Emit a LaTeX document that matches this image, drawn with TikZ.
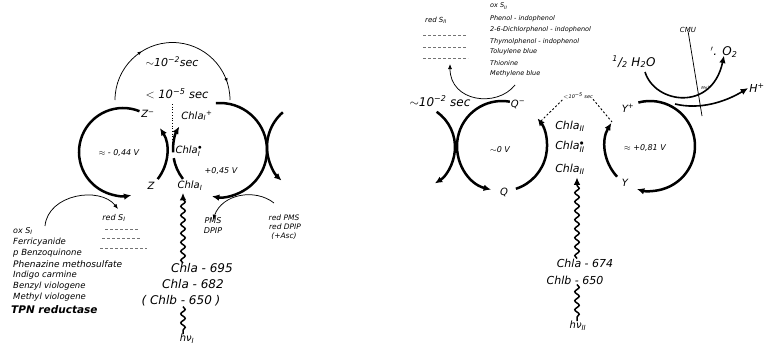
\documentclass[tikz,border=0pt]{standalone}
\usepackage{amsmath}
\usepackage{fontspec}
\setsansfont{DejaVu Sans}
\usetikzlibrary{arrows.meta,decorations.pathmorphing,decorations.markings}
\newcommand\stx[1]{\text{\sffamily\itshape #1}}
\tikzset{
  fs/.style={font=\sffamily\itshape\fontsize{#1}{#1}\selectfont},
  thk/.style={line width=2.5pt},
  med/.style={line width=1.6pt},
  thn/.style={line width=0.75pt},
  tipb/.style={-{Latex[length=7.5pt,width=6.5pt]}},
  tips/.style={-{Latex[length=5pt,width=4pt]}},
  wavy/.style={decorate,decoration={snake,amplitude=2.2pt,segment length=9pt,post length=8pt},line width=1.5pt},
  wavyb/.style={decorate,decoration={snake,amplitude=2.2pt,segment length=9pt},line width=1.5pt},
  dshg/.style={dash pattern=on 2.5pt off 2.5pt,line width=0.6pt,black!55},
  dshk/.style={dash pattern=on 2pt off 2pt,line width=0.9pt},
  midtips/.style={postaction={decorate},decoration={markings,
     mark=at position 0.32 with {\arrow{Latex[length=4pt,width=3.5pt]}},
     mark=at position 0.9 with {\arrow{Latex[length=4pt,width=3.5pt]}}}},
  lst/.style={fs=#1,anchor=west,inner sep=0pt},
  every node/.append style={inner sep=0pt}
}
\begin{document}
\begin{tikzpicture}[x=1pt,y=-1pt]
\useasboundingbox (0,0) rectangle (768,348);
\fill[white] (0,0) rectangle (768,348);

% ================= LEFT SYSTEM =================
\coordinate (Lc) at (123,152);
\coordinate (Rc) at (220,150);
\coordinate (Ec) at (313,147);
\coordinate (Tc) at (172.5,100);

\draw[thk,tipb] (Lc) ++(-68:44) arc[start angle=-68,end angle=-281,radius=44];
\draw[thk,tipb] (Lc) ++(38:44) arc[start angle=38,end angle=-33,radius=44];
\draw[thk,tipb] (Rc) ++(-95:47) arc[start angle=-95,end angle=100,radius=47];
\draw[thk] (Rc) ++(142:47) arc[start angle=142,end angle=170,radius=47];
\draw[thk,tipb] (Rc) ++(177:47) arc[start angle=177,end angle=210,radius=47];
\draw[thk,tipb] (Ec) ++(229:46) arc[start angle=229,end angle=133,radius=46];
\draw[thn,midtips] (Tc) ++(180:57.5) arc[start angle=180,end angle=360,radius=57.5];

\node[fs=11] (t2a) at (172,62) {$\sim$10\textsuperscript{−2}sec};
\node[fs=11.5] (t5a) at (177,94) {$<$ 10\textsuperscript{−5}\ sec};
\coordinate (dA) at (172,104);
\coordinate (dB) at (172,145);
\draw[dotted,line width=0.7pt] (dA) -- (dB);

\node[fs=10] (Zm) at (148,114) {Z\textsuperscript{−}};
\node[fs=10] (ChIp) at (197,116) {Chla\textsubscript{I}\textsuperscript{+}};
\node[fs=10] (ChIs) at (189,151) {Chla$^{\bullet}_{\stx{I}}$};
\node[fs=8] (vL) at (119,153) {$\approx$ - 0,44 V};
\node[fs=8] (vR) at (221,171) {+0,45 V};
\node[fs=10] (Z) at (151,186) {Z};
\node[fs=10] (ChI) at (190,186) {Chla\textsubscript{I}};

\node[fs=12] (c695) at (202,268) {Chla - 695};
\node[fs=12] (c682) at (193,284) {Chla - 682};
\node[fs=12] (c650) at (181,301) {( Chlb - 650 )};
\node[fs=10] (hv1) at (187,339) {hν\textsubscript{I}};
\coordinate (xa) at (183,0);
\draw[wavy,tipb,shorten >=2pt] (c695.north -| xa) -- (ChI.south -| xa);
\draw[wavyb] (c650.south -| xa) -- (hv1.north -| xa);

% ox S_I list
\node[lst=8] (oxS1) at (13,231) {ox S\textsubscript{I}};
\node[lst=8.5] (l1) at (13,242) {Ferricyanide};
\node[lst=8.5] (l2) at (13,253) {p Benzoquinone};
\node[lst=9] (l3) at (13,264) {Phenazine methosulfate};
\node[lst=8.5] (l4) at (13,275) {Indigo carmine};
\node[lst=8.5] (l5) at (13,286) {Benzyl viologene};
\node[lst=8.5] (l6) at (13,297) {Methyl viologene};
\node[lst=10.5] (l7) at (11,310) {\bfseries TPN reductase};

\node[fs=8] (redS1) at (114,218) {red S\textsubscript{I}};
\coordinate (oA) at (45,226);
\coordinate (oB) at (118,209);
\draw[thn,tips] (oA) .. controls (48,194) and (100,186) .. (oB);
\coordinate (g1a) at (105,229); \coordinate (g1b) at (138,229);
\coordinate (g2a) at (102,238); \coordinate (g2b) at (141,238);
\coordinate (g3a) at (100,248); \coordinate (g3b) at (147,248);
\draw[dshg] (g1a) -- (g1b);
\draw[dshg] (g2a) -- (g2b);
\draw[dshg] (g3a) -- (g3b);

\node[fs=8] (PMS) at (213,221) {PMS};
\node[fs=8] (DPIP) at (213,231) {DPIP};
\node[fs=7.5] (rPMS) at (284,218) {red PMS};
\node[fs=7.5] (rDPIP) at (285,227) {red DPIP};
\node[fs=7.5] (asc) at (284,236) {(+Asc)};
\coordinate (pA) at (274,203);
\draw[thn,tips] (pA) .. controls (255,188) and (222,194) .. ([yshift=-2pt]PMS.north);

% ================= RIGHT SYSTEM =================
\coordinate (Pc) at (412,147);
\coordinate (Mc) at (502,146);
\coordinate (Yc) at (650,146);

\draw[thk,tipb] (Pc) ++(-55:43) arc[start angle=-55,end angle=58,radius=43];
\draw[thk,tipb] (Mc) ++(-80:45) arc[start angle=-80,end angle=-256,radius=45];
\draw[thk,tipb] (Mc) ++(72:45) arc[start angle=72,end angle=-38,radius=45];
\draw[thk,tipb] (Yc) ++(-105:45) arc[start angle=-105,end angle=107,radius=45];
\draw[thk,tipb] (Yc) ++(137:45) arc[start angle=137,end angle=211,radius=45];

\node[fs=12] (t2b) at (440,101) {$\sim$10\textsuperscript{−2} sec};
\node[fs=10] (Qm) at (518,104) {Q\textsuperscript{−}};
\node[fs=10] (Q) at (504,192) {Q};
\node[fs=8] (v0) at (500,150) {$\sim$0 V};
\node[fs=11] (C2a) at (570,126) {Chla\textsubscript{II}};
\node[fs=11] (C2b) at (570,147) {Chla$^{\bullet}_{\stx{II}}$};
\node[fs=11] (C2c) at (570,169) {Chla\textsubscript{II}};
\node[fs=5] (t5b) at (578,96) {$<$10\textsuperscript{−5} sec};
\coordinate (qA) at (541,121);
\coordinate (yA) at (612,122);
\draw[dshk] (qA) -- (t5b.south west);
\draw[dshk] (t5b.south east) -- (yA);

\node[fs=10] (Yp) at (628,108) {Y\textsuperscript{+}};
\node[fs=10] (Y) at (625,183) {Y};
\node[fs=8] (v81) at (645,148) {$\approx$ +0,81 V};

\node[fs=12] (h2o) at (634,62) {\textsuperscript{1}/\textsubscript{2} H\textsubscript{2}O};
\node[fs=12] (O2) at (724,52) {$^{\prime}$. O\textsubscript{2}};
\node[fs=11] (Hp) at (757,88) {H\textsuperscript{+}};
\node[fs=7] (cmu) at (688,30) {CMU};
\node[fs=4] (mn) at (707,88) {Mn\textsuperscript{++}};
\coordinate (wA) at (645,72);
\coordinate (hA) at (675,104);
\coordinate (cA) at (702,116);
\draw[med,tipb] (wA) .. controls (655,104) and (712,112) .. ([yshift=2pt]O2.south);
\draw[med,tipb] (hA) .. controls (700,110) and (725,102) .. ([xshift=-1pt]Hp.west);
\draw[thn] ([yshift=2pt]cmu.south) -- (cA);

\node[fs=11] (c674) at (585,263) {Chla - 674};
\node[fs=11] (c650b) at (575,280) {Chlb - 650};
\node[fs=10] (hv2) at (578,326) {hν\textsubscript{II}};
\coordinate (xb) at (577,0);
\draw[wavy,tipb,shorten >=3pt] (c674.north -| xb) -- (C2c.south -| xb);
\draw[wavyb] (c650b.south -| xb) -- (hv2.north -| xb);

% ox S_II list
\node[lst=6.5] (oxS2) at (490,6) {ox S\textsubscript{II}};
\node[lst=6.5] (m1) at (490,19) {Phenol - indophenol};
\node[lst=6.5] (m2) at (490,30) {2-6-Dichlorphenol - indophenol};
\node[lst=6.5] (m3) at (490,42) {Thymolphenol - indophenol};
\node[lst=6.5] (m4) at (490,52) {Toluylene blue};
\node[lst=6.5] (m5) at (490,63) {Thionine};
\node[lst=6.5] (m6) at (490,74) {Methylene blue};

\node[fs=7] (redS2) at (436,20) {red S\textsubscript{II}};
\coordinate (h1a) at (423,35); \coordinate (h1b) at (466,35);
\coordinate (h2a) at (423,47); \coordinate (h2b) at (466,47);
\coordinate (h3a) at (423,58); \coordinate (h3b) at (468,58);
\draw[dshg] (h1a) -- (h1b);
\draw[dshg] (h2a) -- (h2b);
\draw[dshg] (h3a) -- (h3b);
\coordinate (sA) at (515,85);
\coordinate (sB) at (450,64);
\draw[thn,tips] (sA) .. controls (497,108) and (450,102) .. (sB);
\end{tikzpicture}
\end{document}
